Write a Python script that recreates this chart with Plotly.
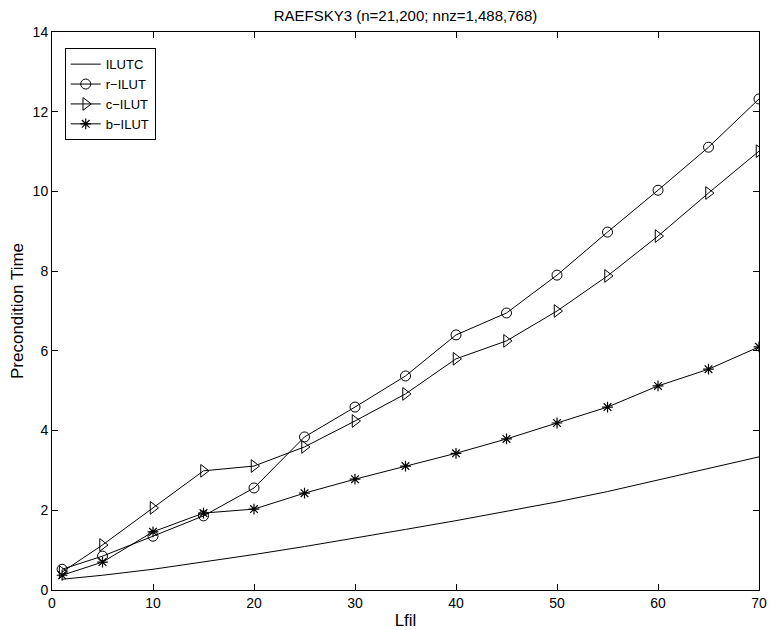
import plotly.graph_objects as go

lfil = [1, 5, 10, 15, 20, 25, 30, 35, 40, 45, 50, 55, 60, 65, 70]
ilutc = [0.27, 0.37, 0.52, 0.70, 0.89, 1.09, 1.30, 1.52, 1.74, 1.97, 2.21, 2.47, 2.76, 3.05, 3.34]
r_ilut = [0.52, 0.85, 1.35, 1.86, 2.56, 3.84, 4.59, 5.37, 6.40, 6.95, 7.90, 8.98, 10.03, 11.11, 12.32]
c_ilut = [0.45, 1.13, 2.06, 2.99, 3.11, 3.59, 4.24, 4.92, 5.80, 6.25, 7.00, 7.88, 8.88, 9.96, 11.01]
b_ilut = [0.37, 0.70, 1.46, 1.93, 2.03, 2.43, 2.78, 3.11, 3.43, 3.79, 4.19, 4.59, 5.12, 5.54, 6.10]

xticks = [0, 10, 20, 30, 40, 50, 60, 70]
yticks = [0, 2, 4, 6, 8, 10, 12, 14]

fig = go.Figure()
line = dict(color="black", width=1)
fig.add_trace(go.Scatter(x=lfil, y=ilutc, mode="lines", name="ILUTC", line=line))
fig.add_trace(go.Scatter(x=lfil, y=r_ilut, mode="lines+markers", name="r\u2212ILUT", line=line,
                         marker=dict(symbol="circle-open", size=10, color="black", line=dict(width=1))))
fig.add_trace(go.Scatter(x=lfil, y=c_ilut, mode="lines+markers", name="c\u2212ILUT", line=line,
                         marker=dict(symbol="triangle-right-open", size=11, color="black", line=dict(width=1))))
fig.add_trace(go.Scatter(x=lfil, y=b_ilut, mode="lines+markers", name="b\u2212ILUT", line=line,
                         marker=dict(symbol="asterisk-open", size=9, color="black", line=dict(width=1.2))))

FS = 14
axis_common = dict(showgrid=False, zeroline=False, showline=True, linecolor="black", linewidth=1,
                   mirror="ticks", ticks="inside", ticklen=6, tickcolor="black", tickwidth=1,
                   automargin=False,
                   tickfont=dict(family="Liberation Sans, Arial", size=FS, color="black"))

fig.update_layout(
    width=773, height=630,
    margin=dict(l=52, r=14, t=32, b=40, autoexpand=False),
    paper_bgcolor="white", plot_bgcolor="white",
    font=dict(family="Liberation Sans, Arial", size=FS, color="black"),
    title=dict(text="RAEFSKY3 (n=21,200; nnz=1,488,768)", x=0.5, xref="paper", xanchor="center",
               y=1 - 15.5 / 630, yanchor="middle", font=dict(size=15)),
    xaxis=dict(range=[0, 70], tickvals=xticks, title=dict(text="Lfil", standoff=5), **axis_common),
    yaxis=dict(range=[0, 14], tickvals=yticks, title=dict(text="Precondition Time", standoff=4), **axis_common),
    legend=dict(x=0.018, y=0.971, xanchor="left", yanchor="top", bordercolor="black", borderwidth=1,
                bgcolor="white", font=dict(size=13), tracegroupgap=0),
)

fig.write_html("out.html")
